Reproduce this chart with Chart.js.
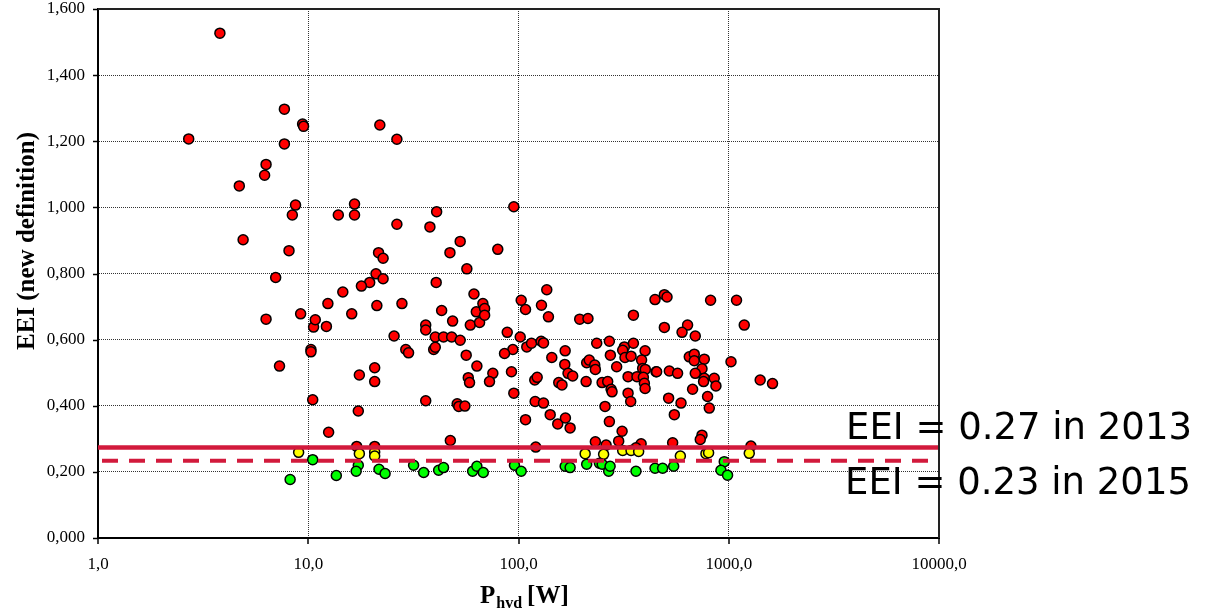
<!DOCTYPE html>
<html><head><meta charset="utf-8">
<script src="https://cdn.jsdelivr.net/npm/chart.js@4"></script>
<style>html,body{margin:0;padding:0;background:#fff;} canvas{display:block;}</style>
</head><body>
<canvas id="c" width="1211" height="609"></canvas>
<script>
// ---- data (P_hyd in W, EEI) ----
const redP = [2.7,3.8,4.7,4.9,6.3,6.2,6.3,7.0,7.3,7.7,7.7,8.1,8.4,8.7,9.2,9.4,9.5,10.3,10.3,10.6,10.8,10.5,12.2,12.4,14.6,16.1,13.9,16.6,16.6,26.4,40.8,37.9,52.8,47.2,56.8,21.6,22.7,21.0,22.7,19.6,17.9,40.6,21.2,27.9,43.1,48.6,59.0,61.4,63.0,65.3,67.7,69.0,69.0,36.2,36.2,25.6,40.2,44.0,48.1,52.8,29.1,30.0,39.5,40.2,56.4,63.4,57.7,58.5,20.7,20.7,17.5,17.3,12.5,36.2,51.1,52.0,55.6,47.4,17.0,20.7,120.8,21.9,26.4,95,79.7,136.3,103,108,128.6,138.8,195.5,214,352,446,88.4,101.9,94.0,85.8,109.5,115.3,128.2,131.5,144,166.7,235.5,270.5,318.8,313,352,400,273.5,321,343,385,211,217,230.5,232,293,389.5,401,451,166,172,181,155.4,161,119.5,122.7,92.6,75.5,72.8,209.7,249.8,265.6,275.6,278.6,332,366,392.6,396.9,400,332,341.7,95,120,131.5,141.5,153.7,167.2,176,108,258,270.5,311,299.6,232,261,383,362,494,508.6,819.7,1089,1185,637,599.6,693,494,1025,1411,1615,649,685.5,685.5,765,746,693,765,853,869,759,454,521.7,571,673,793,808,517.6,593,551,746,732,541,1275];
const redEEI = [1.207,1.527,1.065,0.902,1.130,1.097,0.662,0.788,0.520,1.297,1.192,0.869,0.977,1.007,0.678,1.252,1.245,0.570,0.563,0.638,0.660,0.418,0.640,0.709,0.744,0.678,0.977,1.010,0.977,0.949,0.987,0.941,0.897,0.863,0.814,0.863,0.846,0.799,0.784,0.773,0.762,0.773,0.703,0.709,0.688,0.656,0.644,0.738,0.684,0.652,0.709,0.694,0.674,0.644,0.629,0.611,0.608,0.608,0.608,0.598,0.570,0.560,0.570,0.577,0.553,0.520,0.485,0.470,0.515,0.473,0.493,0.384,0.320,0.415,0.406,0.398,0.399,0.295,0.277,0.277,0.275,1.249,1.206,1.002,0.873,0.751,0.719,0.691,0.704,0.669,0.662,0.664,0.674,0.721,0.622,0.608,0.570,0.558,0.578,0.589,0.595,0.590,0.546,0.566,0.589,0.595,0.578,0.568,0.589,0.566,0.553,0.546,0.550,0.538,0.530,0.538,0.523,0.510,0.518,0.513,0.510,0.503,0.525,0.498,0.490,0.470,0.463,0.478,0.486,0.503,0.498,0.473,0.473,0.470,0.473,0.450,0.442,0.488,0.488,0.486,0.468,0.452,0.438,0.413,0.438,0.413,0.408,0.373,0.345,0.363,0.333,0.358,0.398,0.352,0.323,0.293,0.291,0.281,0.285,0.273,0.736,0.729,0.719,0.719,0.644,0.644,0.622,0.611,0.637,0.533,0.478,0.467,0.548,0.556,0.536,0.541,0.512,0.498,0.483,0.483,0.460,0.473,0.503,0.505,0.498,0.450,0.428,0.393,0.423,0.408,0.373,0.311,0.298,0.288,0.278];
const yellowP = [9.0,17.5,20.7,20.7,207.5,254,313,343,372.8,588.6,779,802,1252];
const yellowEEI = [0.259,0.255,0.260,0.248,0.255,0.253,0.265,0.265,0.262,0.248,0.255,0.258,0.256];
const greenP = [8.2,10.5,13.6,17.3,16.9,21.7,23.2,31.7,35.4,41.7,44.0,60.5,63.4,68.0,95.7,103,166.7,176,211,242.6,250,268.5,272.7,362,446,484.8,547,952,918,987];
const greenEEI = [0.177,0.237,0.189,0.220,0.202,0.208,0.195,0.220,0.198,0.205,0.213,0.202,0.217,0.198,0.220,0.202,0.217,0.213,0.223,0.226,0.223,0.202,0.217,0.202,0.211,0.211,0.217,0.231,0.205,0.190];

const xTickValues = [1, 10, 100, 1000, 10000];
const xTickLabels = ['1,0', '10,0', '100,0', '1000,0', '10000,0'];
const yTickValues = [0, 0.2, 0.4, 0.6, 0.8, 1.0, 1.2, 1.4, 1.6];
const yTickLabels = ['0,000', '0,200', '0,400', '0,600', '0,800', '1,000', '1,200', '1,400', '1,600'];
const refLineX = [1, 10000];
const ref2013 = 0.274;
const ref2015 = 0.234;
const annotationTexts = ['EEI = 0.27 in 2013', 'EEI = 0.23 in 2015'];
const yTitle = 'EEI (new definition)';
const xTitleMain = 'P', xTitleSub = 'hvd', xTitleUnit = '[W]';

const pts = (xs, ys) => xs.map((x, i) => ({x: x, y: ys[i]}));
const REF_COLOR = '#d21a3c';

const decor = {
  id: 'decor',
  afterDraw(chart) {
    const ctx = chart.ctx, a = chart.chartArea;
    const xs = chart.scales.x, ys = chart.scales.y;
    ctx.save();
    ctx.strokeStyle = '#222'; ctx.lineWidth = 2;
    ctx.beginPath(); ctx.moveTo(a.left, a.top); ctx.lineTo(a.right, a.top); ctx.lineTo(a.right, a.bottom); ctx.stroke();
    ctx.strokeStyle = '#000'; ctx.lineWidth = 1.5;
    yTickValues.forEach(v => { const y = Math.round(ys.getPixelForValue(v)) + 0.5; ctx.beginPath(); ctx.moveTo(a.left - 5, y); ctx.lineTo(a.left, y); ctx.stroke(); });
    xTickValues.forEach(v => { const x = Math.round(xs.getPixelForValue(v)); ctx.beginPath(); ctx.moveTo(x, a.bottom); ctx.lineTo(x, a.bottom + 6); ctx.stroke(); });
    ctx.fillStyle = '#000';
    ctx.save();
    ctx.translate(34, 241); ctx.rotate(-Math.PI / 2);
    ctx.font = 'bold 25px "Liberation Serif", "Times New Roman", serif';
    ctx.textAlign = 'center'; ctx.textBaseline = 'alphabetic';
    ctx.fillText(yTitle, 0, 0);
    ctx.restore();
    ctx.textBaseline = 'alphabetic'; ctx.textAlign = 'left';
    ctx.font = 'bold 25px "Liberation Serif", "Times New Roman", serif';
    let x0 = 480;
    ctx.fillText(xTitleMain, x0, 603);
    x0 += ctx.measureText(xTitleMain).width + 1;
    ctx.font = 'bold 16px "Liberation Serif", "Times New Roman", serif';
    ctx.fillText(xTitleSub, x0, 608);
    x0 += ctx.measureText(xTitleSub).width + 5;
    ctx.font = 'bold 25px "Liberation Serif", "Times New Roman", serif';
    ctx.fillText(xTitleUnit, x0, 603);
    ctx.font = '37px "DejaVu Sans", Verdana, sans-serif';
    ctx.fillText(annotationTexts[0], 846, 439);
    ctx.fillText(annotationTexts[1], 845, 494);
    ctx.restore();
  }
};

new Chart(document.getElementById('c'), {
  type: 'scatter',
  data: {
    datasets: [
      {label: 'EEI 2013', data: pts(refLineX, [ref2013, ref2013]), showLine: true, borderColor: REF_COLOR, borderWidth: 4.5, pointRadius: 0, order: 0},
      {label: 'EEI 2015', data: pts(refLineX, [ref2015, ref2015]), showLine: true, borderColor: REF_COLOR, borderWidth: 4, borderDash: [16, 11], borderDashOffset: -4, pointRadius: 0, order: 0},
      {label: 'green', data: pts(greenP, greenEEI), backgroundColor: '#00ff00', borderColor: '#000', borderWidth: 1.5, pointRadius: 5, order: 1},
      {label: 'yellow', data: pts(yellowP, yellowEEI), backgroundColor: '#ffff00', borderColor: '#000', borderWidth: 1.5, pointRadius: 5, order: 2},
      {label: 'red', data: pts(redP, redEEI), backgroundColor: '#ff0000', borderColor: '#000', borderWidth: 1.5, pointRadius: 5, order: 3}
    ]
  },
  options: {
    responsive: false, animation: false, devicePixelRatio: 1,
    layout: {padding: {left: 0, right: 272, top: 9, bottom: 0}},
    plugins: {legend: {display: false}, tooltip: {enabled: false}},
    scales: {
      x: {
        type: 'logarithmic', min: 1, max: 10000,
        afterBuildTicks: s => { s.ticks = xTickValues.map(v => ({value: v})); },
        afterFit: s => { s.height = 71; s.paddingLeft = 0; s.paddingRight = 0; },
        ticks: {autoSkip: false, maxRotation: 0, padding: 16, color: '#000',
          font: {family: '"Liberation Serif", "Times New Roman", serif', size: 17},
          callback: (v, i) => xTickLabels[i]},
        grid: {color: '#333', lineWidth: 1, drawTicks: false},
        border: {display: true, color: '#000', width: 2, dash: [1, 1]}
      },
      y: {
        type: 'linear', min: 0, max: 1.6,
        afterBuildTicks: s => { s.ticks = yTickValues.map(v => ({value: v})); },
        afterFit: s => { s.width = 98; s.paddingTop = 0; s.paddingBottom = 0; },
        ticks: {padding: 13, color: '#000',
          font: {family: '"Liberation Serif", "Times New Roman", serif', size: 17},
          callback: (v, i) => yTickLabels[i]},
        grid: {color: '#333', lineWidth: 1, drawTicks: false},
        border: {display: true, color: '#000', width: 2, dash: [1, 1]}
      }
    }
  },
  plugins: [decor]
});
</script>
</body></html>
